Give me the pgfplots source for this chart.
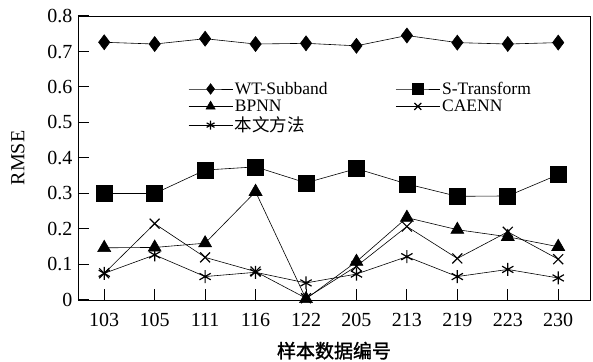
\documentclass[border=0pt]{standalone}
\usepackage{fontspec}
\setmainfont{Liberation Serif}
\newfontfamily\cjk{Noto Sans CJK SC}
\newfontfamily\cjkb{Noto Sans CJK SC}[FakeBold=1.5]
\usepackage{pgfplots}
\pgfplotsset{compat=1.18}
\begin{document}
\begin{tikzpicture}
\begin{axis}[
  scale only axis,
  width=512bp, height=284bp,
  xmin=-0.52, xmax=9.63,
  ymin=0, ymax=0.8,
  xtick={0,...,9},
  xticklabels={103,105,111,116,122,205,213,219,223,230},
  ytick={0,0.1,0.2,0.3,0.4,0.5,0.6,0.7,0.8},
  yticklabels={0,0.1,0.2,0.3,0.4,0.5,0.6,0.7,0.8},
  tick align=inside,
  major tick length=11bp,
  xtick pos=bottom, ytick pos=left,
  axis line style={line width=0.7pt, black},
  every tick/.style={black, line width=1pt},
  tick label style={font=\fontsize{20bp}{22bp}\selectfont},
  /pgf/number format/assume math mode=true,
  yticklabel style={xshift=-2bp},
  xticklabel style={yshift=-10bp},
  ylabel={RMSE},
  ylabel style={font=\fontsize{20bp}{20bp}\selectfont, yshift=16bp},
  xlabel={\cjkb 样本数据编号},
  xlabel style={font=\fontsize{19bp}{20bp}\selectfont, yshift=-8bp},
  legend columns=2,
  legend style={draw=none, fill=none, at={(0.215,0.775)}, anchor=north west,
    font=\fontsize{17.5bp}{17.5bp}\selectfont, row sep=0bp,
    /tikz/every even column/.style={column sep=66bp},
    inner sep=0pt},
  legend cell align=left,
  legend image code/.code={\draw[mark repeat=2,mark phase=2,#1,/tikz/every mark/.append style={scale=0.7}] plot coordinates {(0bp,0bp)(22bp,0bp)(44bp,0bp)};},
  every axis plot/.append style={line width=0.6pt, black},
]
\addplot[mark=diamond*, mark size=7.5bp, mark options={fill=black}] coordinates {
(0,0.726)(1,0.721)(2,0.736)(3,0.721)(4,0.723)(5,0.716)(6,0.745)(7,0.725)(8,0.721)(9,0.725)};
\addlegendentry{WT-Subband}
\addplot[mark=square*, mark size=8bp, mark options={fill=black}] coordinates {
(0,0.300)(1,0.300)(2,0.366)(3,0.375)(4,0.330)(5,0.370)(6,0.327)(7,0.292)(8,0.293)(9,0.353)};
\addlegendentry{S-Transform}
\addplot[mark=triangle*, mark size=7.5bp, mark options={fill=black}] coordinates {
(0,0.147)(1,0.148)(2,0.160)(3,0.305)(4,0.003)(5,0.108)(6,0.232)(7,0.198)(8,0.178)(9,0.150)};
\addlegendentry{BPNN}
\addplot[mark=x, mark size=7bp, mark options={line width=1.2pt}] coordinates {
(0,0.075)(1,0.215)(2,0.120)(3,0.080)(4,0.005)(5,0.095)(6,0.207)(7,0.117)(8,0.192)(9,0.115)};
\addlegendentry{CAENN}
\addplot[mark=asterisk, mark size=6.5bp, mark options={line width=1.2pt}] coordinates {
(0,0.075)(1,0.127)(2,0.066)(3,0.078)(4,0.048)(5,0.073)(6,0.122)(7,0.066)(8,0.086)(9,0.062)};
\addlegendentry{\cjk 本文方法}
\end{axis}
\pgfresetboundingbox
\path (current axis.south west) ++(-78bp,-62bp) rectangle ([shift={(3bp,16bp)}]current axis.north east);
\end{tikzpicture}
\end{document}
